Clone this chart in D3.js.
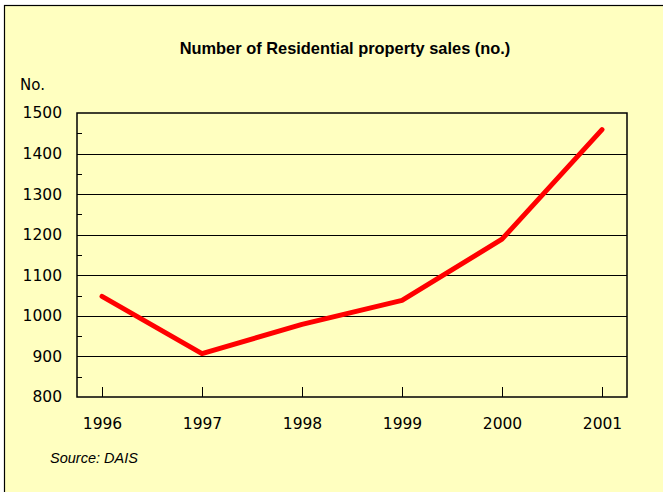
<!DOCTYPE html>
<html>
<head>
<meta charset="utf-8">
<script src="https://cdn.jsdelivr.net/npm/d3@7"></script>
<style>
  body { margin: 0; background: #fff; }
  svg { display: block; }
</style>
</head>
<body>
<div id="chart"></div>
<script>
// data
const years = ['1996', '1997', '1998', '1999', '2000', '2001'];
const sales = [1048, 907, 979, 1038, 1189, 1459];
const yTicks = [800, 900, 1000, 1100, 1200, 1300, 1400, 1500];
const yMinorTicks = [850, 950, 1050, 1150, 1250, 1350, 1450];

const width = 663;
const height = 492;
const plot = { left: 77, right: 627, top: 113, bottom: 397 };

const svg = d3.select('#chart')
  .append('svg')
  .attr('width', width)
  .attr('height', height);

// frame
svg.append('rect')
  .attr('x', 4.5)
  .attr('y', 5.5)
  .attr('width', 700)
  .attr('height', 520)
  .attr('fill', '#ffffc0')
  .attr('stroke', '#000')
  .attr('stroke-width', 1.2);

const x = d3.scalePoint()
  .domain(years)
  .range([plot.left, plot.right])
  .padding(0.25);

const y = d3.scaleLinear()
  .domain([800, 1500])
  .range([plot.bottom, plot.top]);

// title
svg.append('text')
  .attr('x', 345)
  .attr('y', 53.5)
  .attr('text-anchor', 'middle')
  .attr('font-family', '"Liberation Sans Narrow", "Arial Narrow", sans-serif')
  .attr('font-weight', 'bold')
  .attr('font-size', '16.4px')
  .attr('fill', '#000')
  .text('Number of Residential property sales (no.)');

// unit label
svg.append('text')
  .attr('x', 20)
  .attr('y', 90)
  .attr('font-family', '"DejaVu Sans", Verdana, sans-serif')
  .attr('font-size', '15px')
  .attr('fill', '#000')
  .text('No.');

// gridlines
svg.append('g')
  .selectAll('line')
  .data(yTicks.slice(1, -1))
  .join('line')
  .attr('x1', plot.left)
  .attr('x2', plot.right)
  .attr('y1', d => Math.round(y(d)) + 0.5)
  .attr('y2', d => Math.round(y(d)) + 0.5)
  .attr('stroke', '#000')
  .attr('stroke-width', 1);

// minor ticks on y axis (inside)
svg.append('g')
  .selectAll('line')
  .data(yMinorTicks)
  .join('line')
  .attr('x1', plot.left)
  .attr('x2', plot.left + 5)
  .attr('y1', d => Math.round(y(d)) + 0.5)
  .attr('y2', d => Math.round(y(d)) + 0.5)
  .attr('stroke', '#000');

// y axis labels
const yAxis = d3.axisLeft(y)
  .tickValues(yTicks)
  .tickSize(0)
  .tickPadding(15)
  .tickFormat(d3.format('d'));

svg.append('g')
  .attr('transform', `translate(${plot.left},0)`)
  .call(yAxis)
  .call(g => g.select('.domain').remove())
  .call(g => g.selectAll('text')
    .attr('font-family', '"DejaVu Sans", Verdana, sans-serif')
    .attr('font-size', '15.5px')
    .attr('fill', '#000'));

// x axis ticks (inside, pointing up) and labels
const xAxis = d3.axisBottom(x)
  .tickSizeInner(-10)
  .tickSizeOuter(0)
  .tickPadding(21);

svg.append('g')
  .attr('transform', `translate(0,${plot.bottom})`)
  .call(xAxis)
  .call(g => g.select('.domain').remove())
  .call(g => g.selectAll('line').attr('stroke', '#000'))
  .call(g => g.selectAll('text')
    .attr('font-family', '"DejaVu Sans", Verdana, sans-serif')
    .attr('font-size', '15.5px')
    .attr('fill', '#000'));

// plot border
svg.append('rect')
  .attr('x', plot.left)
  .attr('y', plot.top)
  .attr('width', plot.right - plot.left)
  .attr('height', plot.bottom - plot.top)
  .attr('fill', 'none')
  .attr('stroke', '#000')
  .attr('stroke-width', 1.5);

// series line
const line = d3.line()
  .x((d, i) => x(years[i]))
  .y(d => y(d));

svg.append('path')
  .datum(sales)
  .attr('d', line)
  .attr('fill', 'none')
  .attr('stroke', '#ff0000')
  .attr('stroke-width', 5)
  .attr('stroke-linejoin', 'round')
  .attr('stroke-linecap', 'round');

// source note
svg.append('text')
  .attr('x', 50)
  .attr('y', 463)
  .attr('font-family', '"Liberation Sans", Arial, sans-serif')
  .attr('font-style', 'italic')
  .attr('font-size', '14.5px')
  .attr('fill', '#000')
  .text('Source: DAIS');
</script>
</body>
</html>
